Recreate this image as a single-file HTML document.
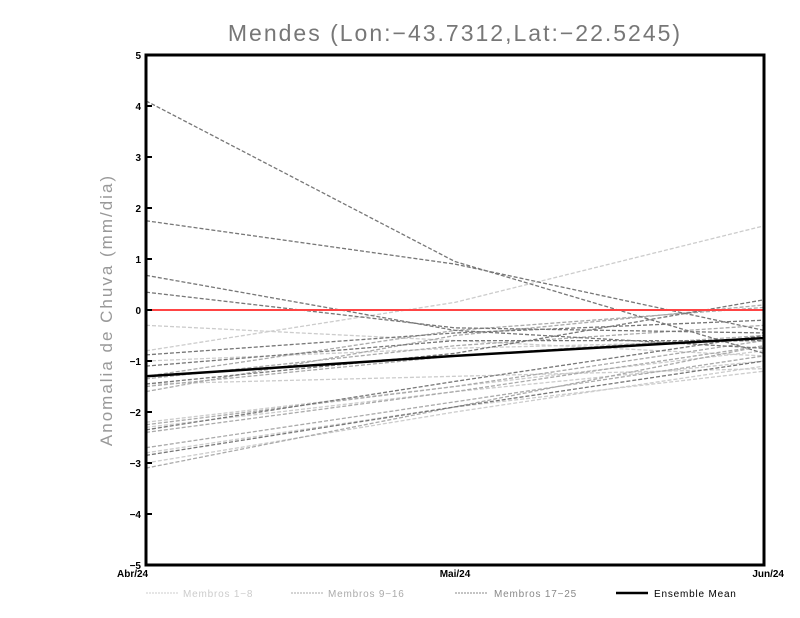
<!DOCTYPE html>
<html><head><meta charset="utf-8"><style>
body{margin:0;background:#fff;width:800px;height:618px;overflow:hidden}
svg{display:block}
text{font-family:"Liberation Sans","DejaVu Sans",sans-serif}
</style></head><body>
<svg id="chart" width="800" height="618">
<text x="455" y="41" text-anchor="middle" font-size="23" fill="#777" letter-spacing="2">Mendes (Lon:−43.7312,Lat:−22.5245)</text>
<text transform="translate(112,310) rotate(-90)" text-anchor="middle" font-size="17" fill="#999" letter-spacing="2">Anomalia de Chuva (mm/dia)</text>
<g id="marks"></g>
<rect x="146" y="55" width="618" height="510" fill="none" stroke="#000" stroke-width="3"/>
<g id="axes"></g>
<g font-size="10" letter-spacing="0.8">
<line x1="146" y1="593" x2="178" y2="593" stroke="#ccc" stroke-dasharray="2,1"/>
<text x="183" y="597" fill="#ccc">Membros 1−8</text>
<line x1="291" y1="593" x2="323" y2="593" stroke="#aaa" stroke-dasharray="2,1"/>
<text x="328" y="597" fill="#aaa">Membros 9−16</text>
<line x1="455" y1="593" x2="488" y2="593" stroke="#888" stroke-dasharray="2,1"/>
<text x="494" y="597" fill="#888">Membros 17−25</text>
<line x1="616" y1="593" x2="648" y2="593" stroke="#000" stroke-width="2.5"/>
<text x="654" y="597" fill="#000">Ensemble Mean</text>
</g>
</svg>
<script>
const categories = ["Abr/24","Mai/24","Jun/24"];
const yTicks = [-5,-4,-3,-2,-1,0,1,2,3,4,5];
const members1to8 = [[-0.8,0.15,1.65],[-0.3,-0.6,-0.9],[-1.0,-0.75,-0.6],[-2.8,-1.9,-1.2],[-3.0,-2.0,-1.1],[-2.3,-1.6,-1.0],[-1.45,-1.3,-1.15],[-2.2,-1.5,-0.8]];
const members9to16 = [[-1.6,-0.5,0.1],[-2.4,-1.6,-0.7],[-1.35,-0.7,-0.3],[-2.7,-1.8,-0.9],[-2.25,-1.5,-0.6],[-1.5,-0.9,-0.5],[-1.3,-0.4,0.05],[-3.1,-1.9,-0.7]];
const members17to25 = [[4.1,0.95,-0.85],[1.75,0.9,-0.4],[0.68,-0.4,-0.75],[0.35,-0.35,-0.45],[-0.88,-0.45,-0.2],[-1.1,-0.6,-0.6],[-1.45,-0.85,0.2],[-2.85,-1.9,-1.0],[-2.35,-1.4,-0.5]];
const ensembleMean = [-1.3,-0.9,-0.55];
const NS="http://www.w3.org/2000/svg";
const X0=146,X1=764,Y0=565,Y1=55;
function xs(i){return X0+(X1-X0)*i/(categories.length-1);}
function ys(v){return Y0-(v+5)/10*(Y0-Y1);}
const marks=document.getElementById('marks'), axes=document.getElementById('axes');
function poly(vals,color,w,dash,name){
  const p=document.createElementNS(NS,'polyline');
  p.setAttribute('points',vals.map((v,i)=>xs(i)+','+ys(v)).join(' '));
  p.setAttribute('fill','none');p.setAttribute('stroke',color);p.setAttribute('stroke-width',w);
  if(dash)p.setAttribute('stroke-dasharray',dash);
  
  
  marks.appendChild(p);
}
members1to8.forEach((m,i)=>poly(m,'#ccc',1.3,'4,2','member-'+(i+1)+'-line'));
members9to16.forEach((m,i)=>poly(m,'#aaa',1.3,'4,2','member-'+(i+9)+'-line'));
members17to25.forEach((m,i)=>poly(m,'#777',1.3,'4,2','member-'+(i+17)+'-line'));
const zl=document.createElementNS(NS,'line');
zl.setAttribute('x1',X0);zl.setAttribute('x2',X1);zl.setAttribute('y1',ys(0));zl.setAttribute('y2',ys(0));
zl.setAttribute('stroke','#f44');zl.setAttribute('stroke-width','2');


marks.appendChild(zl);
poly(ensembleMean,'#000',2.5,null,'ensemble-mean-line');
yTicks.forEach(t=>{
  const l=document.createElementNS(NS,'line');
  l.setAttribute('x1',X0);l.setAttribute('x2',X0+6);l.setAttribute('y1',ys(t));l.setAttribute('y2',ys(t));
  l.setAttribute('stroke','#000');l.setAttribute('stroke-width','2');
  
  
  axes.appendChild(l);
  const tx=document.createElementNS(NS,'text');
  tx.setAttribute('x',X0-5);tx.setAttribute('y',ys(t)+4);tx.setAttribute('text-anchor','end');
  tx.setAttribute('font-size','10');tx.setAttribute('font-weight','bold');
  tx.textContent=t<0?'−'+(-t):String(t);
  
  
  axes.appendChild(tx);
});
categories.forEach((c,i)=>{
  const tx=document.createElementNS(NS,'text');
  tx.setAttribute('x',xs(i));tx.setAttribute('y',577);
  tx.setAttribute('text-anchor',i==0?'start':(i==categories.length-1?'end':'middle'));
  if(i==0)tx.setAttribute('x',X0-29);
  if(i==categories.length-1)tx.setAttribute('x',X1+20);
  tx.setAttribute('font-size','10');tx.setAttribute('font-weight','bold');
  tx.textContent=c;
  
  
  axes.appendChild(tx);
});
</script>
</body></html>
